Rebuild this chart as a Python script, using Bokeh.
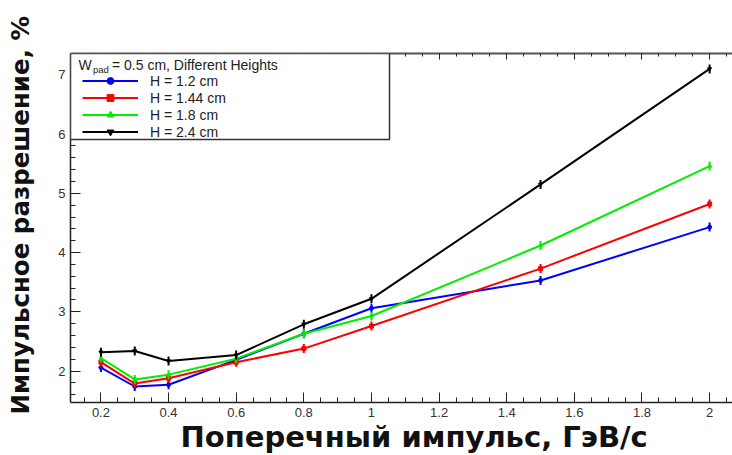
import math
from bokeh.plotting import figure
from bokeh.models import (Range1d, LinearAxis, SingleIntervalTicker, CustomJSTickFormatter,
                          Legend, LegendItem, Label, BoxAnnotation, Title)
from bokeh.embed import file_html
from bokeh.resources import INLINE

# ---- data ----
pt = [0.2, 0.3, 0.4, 0.6, 0.8, 1.0, 1.5, 2.0]
res_h12 = [2.06, 1.74, 1.77, 2.19, 2.63, 3.06, 3.53, 4.43]
res_h144 = [2.15, 1.79, 1.88, 2.15, 2.38, 2.76, 3.73, 4.82]
res_h18 = [2.22, 1.86, 1.94, 2.21, 2.63, 2.93, 4.12, 5.46]
res_h24 = [2.32, 2.34, 2.17, 2.27, 2.79, 3.22, 5.15, 7.10]
series_labels = ["H = 1.2 cm", "H = 1.44 cm", "H = 1.8 cm", "H = 2.4 cm"]
series_colors = ["#0000ff", "#ff0000", "#00ee00", "#000000"]
series_markers = ["circle", "square", "triangle", "inverted_triangle"]
x_title = "Поперечный импульс, ГэВ/с"
y_title = "Импульсное разрешение, %"
legend_header = "= 0.5 cm, Different Heights"

# ---- layout ----
FL, FT, FW, FH = 70, 53, 662, 349      # frame position / size on the canvas (px)
X0 = 0.11
SX = 338.16
X1 = X0 + FW / SX
Y0, Y1 = 1.47, 7.36
SY = FH / (Y1 - Y0)


def dx(px):
    return X0 + (px - FL) / SX


def dy(py):
    return Y1 - (py - FT) / SY


p = figure(frame_width=FW, frame_height=FH,
           x_range=Range1d(X0, X1), y_range=Range1d(Y0, Y1),
           output_backend="svg", toolbar_location=None,
           min_border_left=FL, min_border_right=0,
           min_border_top=FT, min_border_bottom=53,
           outline_line_color=None,
           background_fill_color="white", border_fill_color="white")
p.xgrid.visible = False
p.ygrid.visible = False

fmt = CustomJSTickFormatter(code="return String(Number(tick.toFixed(3)));")
blank = CustomJSTickFormatter(code="return '';")
TICK_FONT = "Liberation Sans"


def style_axis(ax):
    ax.axis_line_color = "#222222"
    ax.axis_line_width = 1.5
    ax.major_tick_line_color = "#222222"
    ax.minor_tick_line_color = "#222222"
    ax.major_tick_in = 10
    ax.major_tick_out = 0
    ax.minor_tick_in = 5
    ax.minor_tick_out = 0
    ax.major_label_text_font = TICK_FONT
    ax.major_label_text_font_size = "13px"
    ax.major_label_text_color = "#333333"
    ax.major_label_standoff = 5


xax = p.xaxis[0]
xax.ticker = SingleIntervalTicker(interval=0.2, num_minor_ticks=4)
xax.formatter = fmt
style_axis(xax)

yax = p.yaxis[0]
yax.ticker = SingleIntervalTicker(interval=1, num_minor_ticks=5)
yax.formatter = fmt
style_axis(yax)
# y title: shifted toward the top of the axis like the ROOT original
yax.axis_label = "\u00a0\u00a0\u00a0" + y_title
yax.axis_label_text_font = "DejaVu Sans"
yax.axis_label_text_font_style = "bold"
yax.axis_label_text_font_size = "24.5px"
yax.axis_label_text_color = "#111111"
yax.axis_label_standoff = 20

top = LinearAxis(ticker=SingleIntervalTicker(interval=0.2, num_minor_ticks=4),
                 formatter=blank)
style_axis(top)
top.major_tick_in = 6
top.minor_tick_in = 3
top.major_label_standoff = 0
top.axis_line_color = "#555555"
top.axis_line_width = 2
p.add_layout(top, "above")

# ---- series ----
all_vals = [res_h12, res_h144, res_h18, res_h24]
items = []
for vals, lab, col, mk in zip(all_vals, series_labels, series_colors, series_markers):
    ln = p.line(pt, vals, line_color=col, line_width=2)
    eb = p.scatter(pt, vals, marker="dash", angle=math.pi / 2, size=9,
                   line_color=col, line_width=2)
    sc = p.scatter(pt, vals, marker=mk, size=4, line_color=col, fill_color=col)
    items.append(LegendItem(label=lab, renderers=[ln, eb, sc]))

# ---- legend box ----
box = BoxAnnotation(left=X0, right=dx(389), top=Y1, bottom=dy(139),
                    fill_color="white", fill_alpha=1.0,
                    line_color="#333333", line_width=1.5, line_alpha=1.0)
p.add_layout(box)

LEG_FS = "14px"
p.add_layout(Label(x=dx(78), y=dy(64), text="W", text_font=TICK_FONT,
                   text_font_size=LEG_FS, text_color="#222222",
                   text_baseline="alphabetic"))
p.add_layout(Label(x=dx(92.5), y=dy(68.5), text="pad", text_font=TICK_FONT,
                   text_font_size="9.5px", text_color="#222222",
                   text_baseline="alphabetic"))
p.add_layout(Label(x=dx(111.5), y=dy(64), text=legend_header, text_font=TICK_FONT,
                   text_font_size=LEG_FS, text_color="#222222",
                   text_baseline="alphabetic"))

legend = Legend(items=items, location=(12, 262), padding=0, margin=0, spacing=0,
                glyph_width=56, glyph_height=17, label_height=17, label_standoff=12,
                label_text_font=TICK_FONT, label_text_font_size=LEG_FS,
                label_text_color="#222222",
                background_fill_alpha=0, border_line_color=None)
p.add_layout(legend)

# ---- x title ----
p.add_layout(Title(text=x_title, align="left", offset=110, standoff=-4,
                   text_font="DejaVu Sans", text_font_style="bold",
                   text_font_size="29px", text_color="#111111"), "below")

open("out.html", "w").write(file_html(p, INLINE))
